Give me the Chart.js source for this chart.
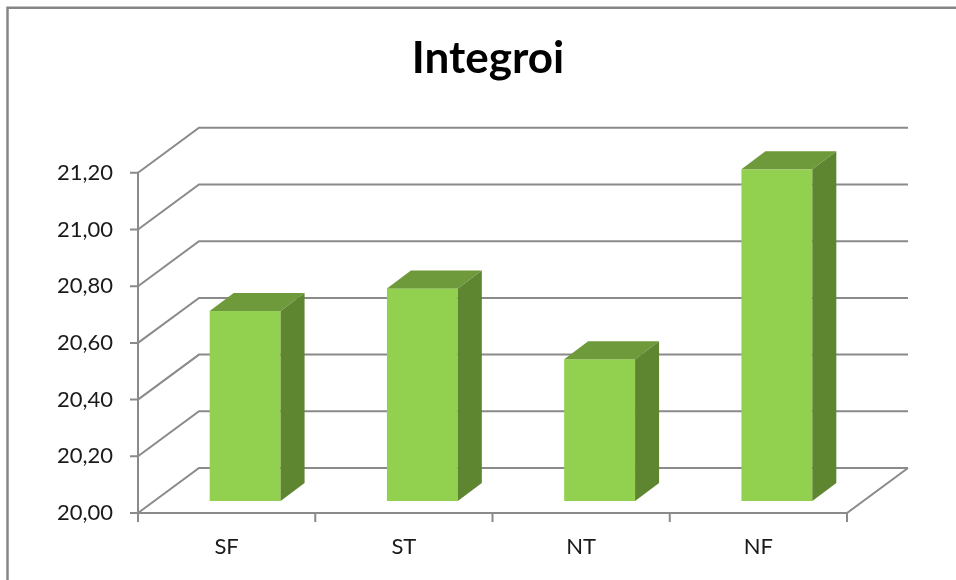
<!DOCTYPE html>
<html lang="fi">
<head>
  <meta charset="UTF-8">
  <title>Integroi</title>
  <script src="https://cdn.jsdelivr.net/npm/chart.js"></script>
  <style>
    body { margin: 0; background: #fff; }
  </style>
</head>
<body>
  <canvas id="integroiChart" width="956" height="580"></canvas>

  <script>
    // values
    const categories = ['SF', 'ST', 'NT', 'NF'];
    const values = [20.67, 20.75, 20.50, 21.17];
    const yTickLabels = ['20,00', '20,20', '20,40', '20,60', '20,80', '21,00', '21,20'];

    const gridColor = '#8a8a8a';
    const wall = { dx: 61, dy: -45 };     // back wall offset
    const shift = { dx: 18.5, dy: -12 };  // bars sit a bit into the floor
    const depth = { dx: 24, dy: -18 };    // bar depth

    // fake 3D: walls, floor and boxes drawn from the scales / bar elements
    const fake3d = {
      id: 'fake3d',
      beforeDatasetsDraw(chart) {
        const ctx = chart.ctx;
        const area = chart.chartArea;
        const y = chart.scales.y;

        ctx.save();
        // outer frame (left and top only, rest is cut off)
        ctx.strokeStyle = '#868686';
        ctx.lineWidth = 2.5;
        ctx.beginPath();
        ctx.moveTo(7.5, 580);
        ctx.lineTo(7.5, 7.75);
        ctx.lineTo(956, 7.75);
        ctx.stroke();

        ctx.strokeStyle = gridColor;
        ctx.lineWidth = 2;
        ctx.beginPath();
        y.ticks.forEach(t => {
          const py = y.getPixelForValue(t.value);
          // side diagonal + back wall line
          ctx.moveTo(area.left, py);
          ctx.lineTo(area.left + wall.dx, py + wall.dy);
          ctx.lineTo(area.right + wall.dx, py + wall.dy);
          // tick mark
          ctx.moveTo(area.left - 8, py);
          ctx.lineTo(area.left, py);
        });
        // front value axis
        ctx.moveTo(area.left, area.top);
        ctx.lineTo(area.left, area.bottom);
        // floor front edge and right diagonal
        ctx.lineTo(area.right, area.bottom);
        ctx.lineTo(area.right + wall.dx, area.bottom + wall.dy);
        // category ticks
        const step = (area.right - area.left) / categories.length;
        for (let i = 0; i <= categories.length; i++) {
          const px = area.left + i * step;
          ctx.moveTo(px, area.bottom);
          ctx.lineTo(px, area.bottom + 9);
        }
        ctx.stroke();

        // boxes
        const basePx = y.getPixelForValue(y.min);
        chart.getDatasetMeta(0).data.forEach(bar => {
          const p = bar.getProps(['x', 'y', 'width'], true);
          const x0 = p.x - p.width / 2 + shift.dx;
          const x1 = p.x + p.width / 2 + shift.dx;
          const yt = p.y + shift.dy;
          const yb = basePx + shift.dy;

          ctx.fillStyle = '#92d050';
          ctx.fillRect(x0, yt, x1 - x0, yb - yt);

          ctx.fillStyle = '#6f9a3b';
          ctx.beginPath();
          ctx.moveTo(x0, yt);
          ctx.lineTo(x1, yt);
          ctx.lineTo(x1 + depth.dx, yt + depth.dy);
          ctx.lineTo(x0 + depth.dx, yt + depth.dy);
          ctx.closePath();
          ctx.fill();

          ctx.fillStyle = '#5e8631';
          ctx.beginPath();
          ctx.moveTo(x1, yt);
          ctx.lineTo(x1 + depth.dx, yt + depth.dy);
          ctx.lineTo(x1 + depth.dx, yb + depth.dy);
          ctx.lineTo(x1, yb);
          ctx.closePath();
          ctx.fill();
        });
        ctx.restore();
      }
    };

    new Chart(document.getElementById('integroiChart'), {
      type: 'bar',
      data: {
        labels: categories,
        datasets: [{
          data: values,
          backgroundColor: 'rgba(0,0,0,0)',
          categoryPercentage: 0.8,
          barPercentage: 0.5
        }]
      },
      options: {
        responsive: false,
        animation: false,
        devicePixelRatio: 1,
        layout: { padding: { left: 20, right: 0, top: 0, bottom: 0 } },
        plugins: {
          legend: { display: false },
          tooltip: { enabled: false },
          title: {
            display: true,
            text: 'Integroi',
            color: '#000',
            font: { family: 'Lato', size: 44, weight: 'bold' },
            padding: { top: 32, bottom: 88 }
          }
        },
        scales: {
          x: {
            grid: { display: false, drawTicks: false },
            border: { display: false },
            ticks: { color: '#1a1a1a', font: { family: 'Lato', size: 22 }, padding: 21 },
            afterFit(scale) { scale.height = 67; }
          },
          y: {
            min: 20,
            max: 21.2,
            grid: { display: false, drawTicks: false },
            border: { display: false },
            ticks: {
              stepSize: 0.2,
              color: '#1a1a1a',
              font: { family: 'Lato', size: 22 },
              padding: 25,
              callback: (v, i) => yTickLabels[i]
            },
            afterFit(scale) { scale.width = 118; }
          },
          // empty right axis, only reserves the space right of the floor
          yRight: {
            position: 'right',
            grid: { display: false, drawTicks: false },
            border: { display: false },
            ticks: { display: false },
            afterFit(scale) { scale.width = 109; }
          }
        }
      },
      plugins: [fake3d]
    });
  </script>
</body>
</html>
